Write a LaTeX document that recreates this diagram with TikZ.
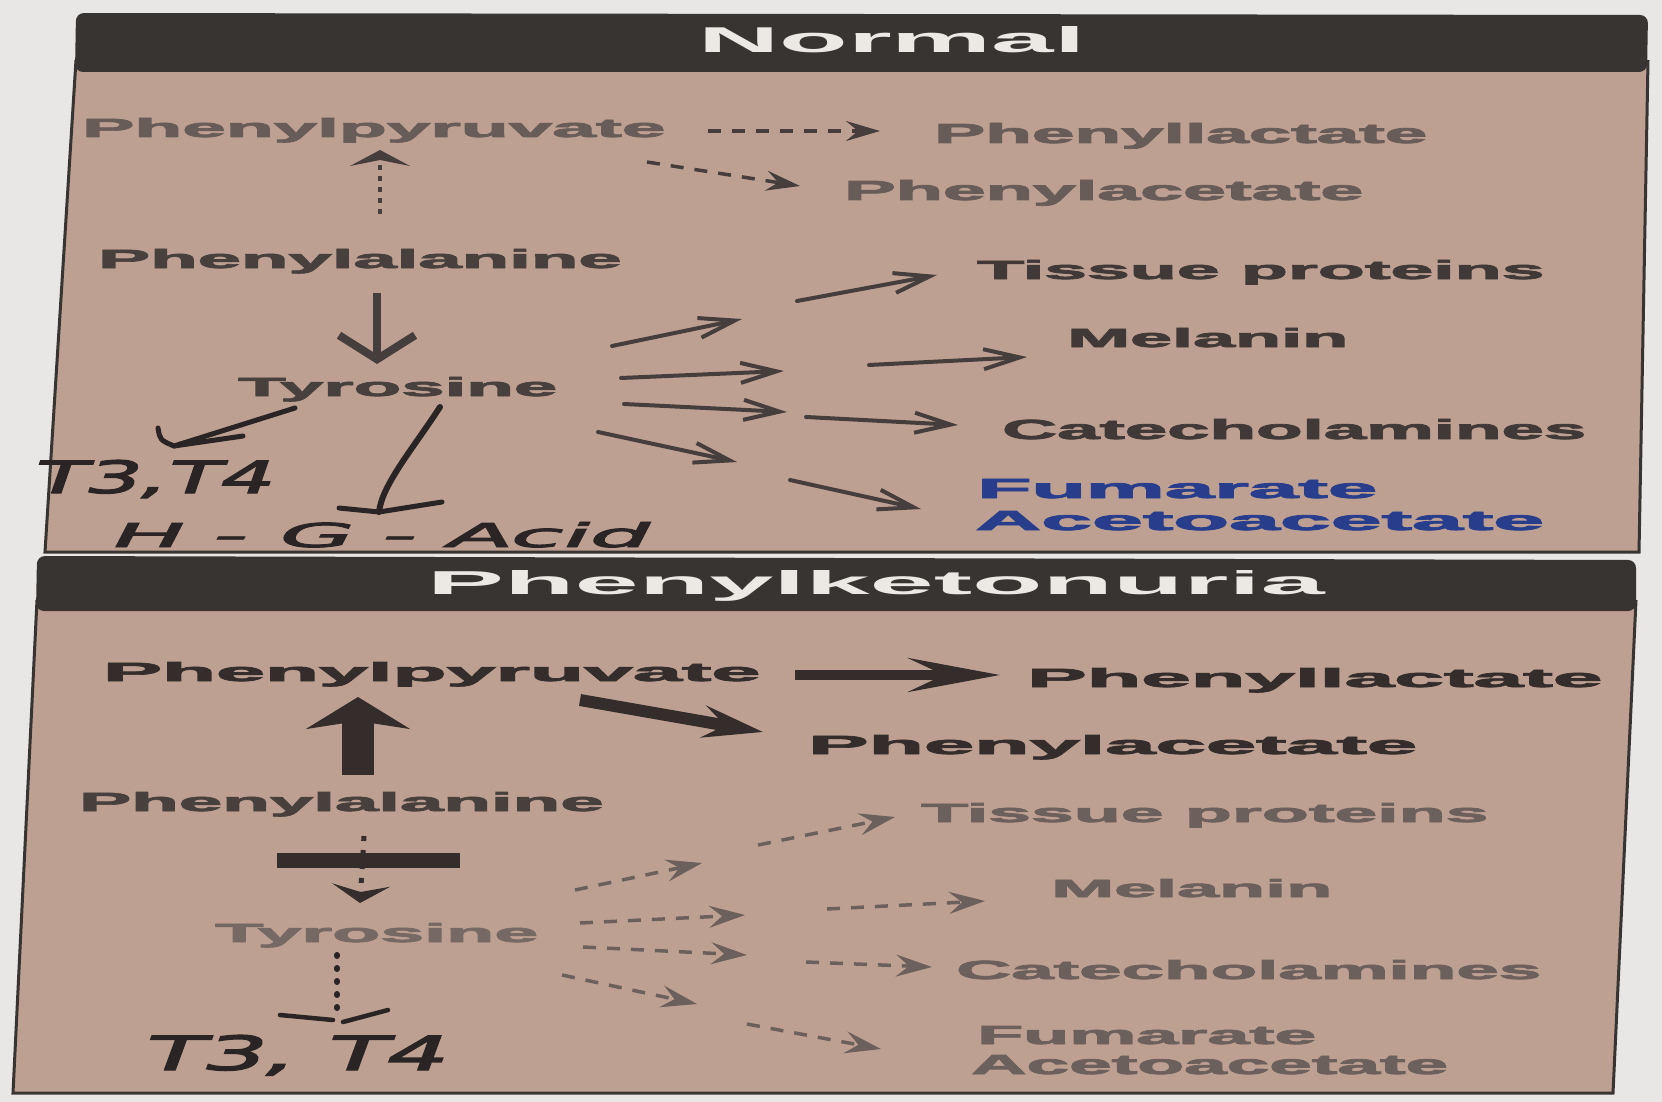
\documentclass[tikz,border=0pt]{standalone}
\usepackage{fontspec}
\usepackage{graphicx}
\usetikzlibrary{arrows.meta}
\newfontfamily\pf{Liberation Sans}[UprightFont=* Bold, FakeBold=2.5]
\newfontfamily\hf{Liberation Sans}[UprightFont=* Bold]
\newfontfamily\hw{DejaVu Sans}[FakeSlant=0.18,FakeBold=2.5]
\definecolor{bgout}{RGB}{232,231,229}
\definecolor{panel}{RGB}{189,160,145}
\definecolor{hdr}{RGB}{56,52,50}
\definecolor{hdrtxt}{RGB}{236,233,229}
\definecolor{tfaded}{RGB}{104,92,88}
\definecolor{tmid}{RGB}{72,64,61}
\definecolor{tdark}{RGB}{64,57,55}
\definecolor{tblue}{RGB}{40,62,140}
\definecolor{arr}{RGB}{70,62,60}
\definecolor{bdark}{RGB}{52,45,43}
\definecolor{bfade}{RGB}{108,96,92}
\definecolor{bfade2}{RGB}{118,105,100}
\definecolor{ink}{RGB}{42,36,36}
\newcommand{\fitw}[3]{\resizebox{#1pt}{#2pt}{#3}}
\tikzset{
  lbl/.style={inner sep=0pt, anchor=base west, font=\pf},
  hlbl/.style={inner sep=0pt, anchor=base west, font=\hf, text=hdrtxt},
  hand/.style={inner sep=0pt, anchor=base west, font=\hw, text=ink},
  solidarr/.style={draw=arr, line width=4pt, line cap=round, -{Straight Barb[length=36pt,width=20pt]}},
  dasharr/.style={draw=arr, line width=3.5pt, dash pattern=on 13pt off 11pt, -{Stealth[length=34pt,width=20pt,inset=12pt]}},
  bdasharr/.style={draw=bfade, line width=3.5pt, dash pattern=on 13pt off 11pt, -{Stealth[length=36pt,width=22pt,inset=13pt]}},
  inkline/.style={draw=ink, line width=5pt, line cap=round, line join=round},
}
\begin{document}
\begin{tikzpicture}[x=1pt,y=-1pt]
\useasboundingbox (0,0) rectangle (1662,1102);
\fill[bgout] (0,0) rectangle (1662,1102);

% ---------- panels ----------
\fill[panel] (76,60) -- (1648,60) -- (1639,552) -- (45,552) -- cycle;
\draw[hdr, line width=3pt] (76,60) -- (45,552) -- (1639,552) -- (1648,60);
\fill[hdr, rounded corners=8pt] (76,13) -- (1648,15) -- (1647,72) -- (75,72) -- cycle;

\fill[panel] (37,600) -- (1636,600) -- (1613,1093) -- (13,1093) -- cycle;
\draw[hdr, line width=3pt] (37,600) -- (13,1093) -- (1613,1093) -- (1636,600);
\fill[hdr, rounded corners=8pt] (37,556) -- (1636,560) -- (1636,611) -- (36,611) -- cycle;

% ---------- headers ----------
\node[hlbl] (hN) at (698,53) {\fitw{387}{26}{Normal}};
\node[hlbl] (hP) at (427,594) {\fitw{897}{24}{Phenylketonuria}};

% ---------- top panel labels ----------
\node[lbl, text=tfaded] (tPP) at (82,137) {\fitw{583}{19}{Phenylpyruvate}};
\node[lbl, text=tfaded] (tPL) at (934,143) {\fitw{493}{20}{Phenyllactate}};
\node[lbl, text=tfaded] (tPA) at (844,200) {\fitw{519}{20}{Phenylacetate}};
\node[lbl, text=tmid] (tPhe) at (98,268) {\fitw{523}{19}{Phenylalanine}};
\node[lbl, text=tmid] (tTyr) at (238,396) {\fitw{319}{19}{Tyrosine}};
\node[lbl, text=tdark] (tTP) at (977,279) {\fitw{567}{19}{Tissue proteins}};
\node[lbl, text=tdark] (tMel) at (1067,347) {\fitw{281}{19}{Melanin}};
\node[lbl, text=tdark] (tCat) at (1002,439) {\fitw{584}{20}{Catecholamines}};
\node[lbl, text=tblue] (tFum) at (977,498) {\fitw{400}{19}{Fumarate}};
\node[lbl, text=tblue] (tAce) at (975,530) {\fitw{569}{19}{Acetoacetate}};

% top connectors
\coordinate (u1) at (380,214); \coordinate (u2) at (380,150);
\draw[draw=arr, line width=4.5pt, dash pattern=on 5pt off 6pt, -{Stealth[length=16pt,width=60pt,inset=6pt]}] (u1) -- (u2);
\coordinate (d1) at (377,293); \coordinate (d2) at (377,364);
\draw[draw=arr, line width=8pt, -{Straight Barb[length=24pt,width=76pt]}] (d1) -- (d2);
\coordinate (p1) at (708,131); \coordinate (p2) at (880,131);
\draw[dasharr] (p1) -- (p2);
\coordinate (q1) at (647,162); \coordinate (q2) at (800,186);
\draw[dasharr] (q1) -- (q2);

\coordinate (a1s) at (612,346); \coordinate (a1e) at (742,319);
\coordinate (b1s) at (797,301); \coordinate (b1e) at (937,275);
\coordinate (a2s) at (621,378); \coordinate (a2e) at (784,371);
\coordinate (b2s) at (869,365); \coordinate (b2e) at (1027,357);
\coordinate (a3s) at (624,404); \coordinate (a3e) at (787,412);
\coordinate (b3s) at (806,417); \coordinate (b3e) at (958,425);
\coordinate (a4s) at (598,432); \coordinate (a4e) at (737,462);
\coordinate (b4s) at (790,480); \coordinate (b4e) at (921,509);
\foreach \s/\e in {a1s/a1e,b1s/b1e,a2s/a2e,b2s/b2e,a3s/a3e,b3s/b3e,a4s/a4e,b4s/b4e}
  \draw[solidarr] (\s) -- (\e);

% handwritten (top)
\coordinate (c1) at (295,408); \coordinate (c2) at (174,446);
\draw[inkline] (c1) -- (c2);
\draw[inkline] (158,428) .. controls (160,440) .. (c2) -- (243,436);
\coordinate (h1) at (440,407); \coordinate (h2) at (379,512);
\draw[inkline, line width=6pt] (h1) .. controls (412,450) and (382,485) .. (h2);
\draw[inkline] (339,508) -- (h2) -- (442,502);
\node[hand] (tT34) at (30,493) {\fitw{240}{33}{T3,T4}};
\node[hand] (tHGA) at (107,547) {\fitw{538}{25}{H - G - Acid}};

% ---------- bottom panel labels ----------
\node[lbl, text=bdark] (bPP) at (103,681) {\fitw{657}{19}{Phenylpyruvate}};
\node[lbl, text=bdark] (bPL) at (1027,687) {\fitw{575}{19}{Phenyllactate}};
\node[lbl, text=bdark] (bPA) at (808,754) {\fitw{609}{19}{Phenylacetate}};
\node[lbl, text=tmid] (bPhe) at (79,811) {\fitw{524}{19}{Phenylalanine}};
\node[lbl, text=bfade2] (bTyr) at (215,942) {\fitw{323}{19}{Tyrosine}};
\node[lbl, text=bfade] (bTP) at (921,822) {\fitw{567}{19}{Tissue proteins}};
\node[lbl, text=bfade] (bMel) at (1051,897) {\fitw{281}{18}{Melanin}};
\node[lbl, text=bfade] (bCat) at (956,979) {\fitw{585}{19}{Catecholamines}};
\node[lbl, text=bfade] (bFum) at (977,1044) {\fitw{339}{18}{Fumarate}};
\node[lbl, text=bfade] (bAce) at (971,1074) {\fitw{477}{19}{Acetoacetate}};

% bottom thick arrows
\coordinate (k1) at (795,675); \coordinate (k2) at (1000,675);
\draw[draw=bdark, line width=10pt, -{Stealth[length=92pt,width=34pt,inset=36pt]}] (k1) -- (k2);
\coordinate (m1) at (580,700); \coordinate (m2) at (763,732);
\draw[draw=bdark, line width=12pt, -{Stealth[length=60pt,width=32pt,inset=22pt]}] (m1) -- (m2);
\coordinate (v1) at (358,775); \coordinate (v2) at (358,697);
\draw[draw=bdark, line width=32pt, -{Stealth[length=32pt,width=104pt,inset=8pt]}] (v1) -- (v2);

% block
\fill[bdark] (277,853) rectangle (460,868);
\coordinate (w1) at (364,836); \coordinate (w2) at (360,903);
\draw[draw=bdark, line width=5pt, dash pattern=on 5pt off 9pt, -{Stealth[length=18pt,width=58pt,inset=7pt]}] (w1) -- (w2);

% bottom dashed arrows
\coordinate (e1s) at (575,890); \coordinate (e1e) at (702,863);
\coordinate (f1s) at (758,845); \coordinate (f1e) at (895,817);
\coordinate (e2s) at (580,923); \coordinate (e2e) at (745,915);
\coordinate (f2s) at (827,909); \coordinate (f2e) at (985,901);
\coordinate (e3s) at (583,947); \coordinate (e3e) at (747,955);
\coordinate (f3s) at (806,962); \coordinate (f3e) at (932,967);
\coordinate (e4s) at (562,975); \coordinate (e4e) at (697,1004);
\coordinate (f4s) at (747,1024); \coordinate (f4e) at (881,1049);
\foreach \s/\e in {e1s/e1e,f1s/f1e,e2s/e2e,f2s/f2e,e3s/e3e,f3s/f3e,e4s/e4e,f4s/f4e}
  \draw[bdasharr] (\s) -- (\e);

% bottom handwritten
\coordinate (g1) at (337,955); \coordinate (g2) at (337,1016);
\draw[draw=ink, line width=6pt, line cap=round, dash pattern=on 1pt off 12pt] (g1) -- (g2);
\draw[inkline, line width=4.5pt] (280,1015) -- (333,1020);
\draw[inkline, line width=4.5pt] (343,1022) -- (388,1010);
\node[hand] (bT34) at (140,1070) {\fitw{303}{35}{T3, T4}};
\end{tikzpicture}
\end{document}
